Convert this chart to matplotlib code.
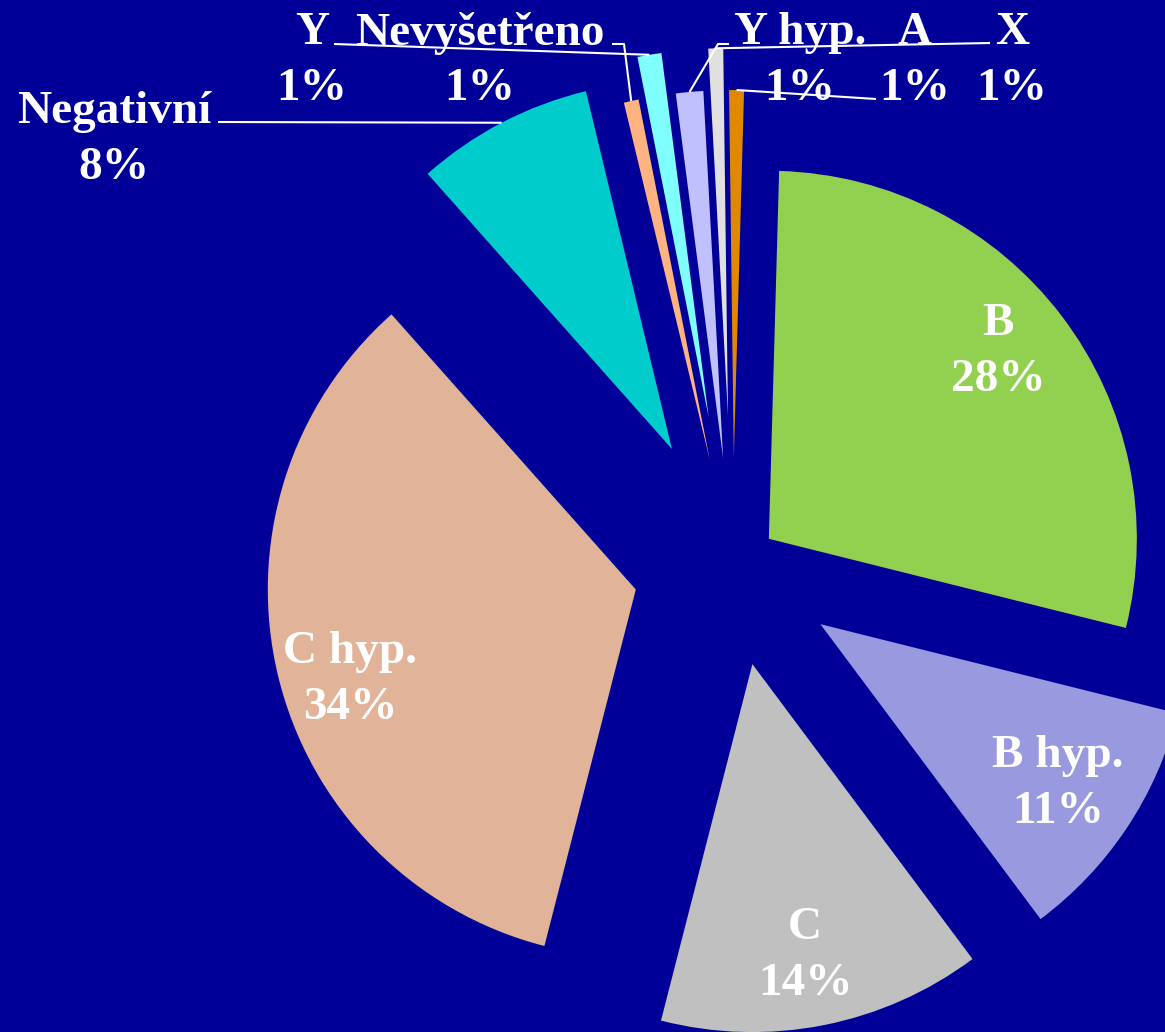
import matplotlib.pyplot as plt
import numpy as np

# ============================================================
# Data (percent shares, clockwise from 12 o'clock)
# ============================================================
categories = ["B", "B hyp.", "C", "C hyp.", "Negativní",
              "Nevyšetřeno", "Y", "Y hyp.", "X", "A"]
shares = [28.45, 10.9, 14.2, 34.45, 7.8, 0.65, 1.05, 1.2, 0.65, 0.65]
colors = ["#92D050", "#9999E0", "#C0C0C0", "#E1B398", "#00CCCC",
          "#FFB380", "#80FFFF", "#C0C0FF", "#E0E0E0", "#E08800"]

# ============================================================
# Layout (pixels, measured from top-left of the picture)
# ============================================================
W, H = 1165, 1032
bg = "#000099"
center_px = (733, 566)
radius = 368
start = 88.4
explode = [45, 105, 100, 100, 132, 108, 150, 108, 150, 108]

# label text centres
label_pos = {
    "B": (998, 352),
    "B hyp.": (1058, 784),
    "C": (805, 956),
    "C hyp.": (350, 680),
    "Negativní": (114, 140),
    "Nevyšetřeno": (480, 61),
    "Y": (312, 61),
    "Y hyp.": (800, 61),
    "X": (1012, 61),
    "A": (915, 61),
}
# leader lines: start point and optional elbow, end is the wedge tip
leader_start = {
    "Negativní": (218, 122),
    "Nevyšetřeno": (612, 44),
    "Y": (334, 44),
    "Y hyp.": (729, 44),
    "X": (990, 43),
    "A": (876, 99),
}
leader_elbow = {
    "Nevyšetřeno": (624, 44),
    "Y hyp.": (718, 44),
}

font = dict(family="Liberation Serif", weight="bold", size=34, color="white")
spacing = 1.43


def flip(p):
    return (p[0], H - p[1])


pct = [f"{round(v)}%" for v in shares]

fig = plt.figure(figsize=(W / 100, H / 100), dpi=100, facecolor=bg)
ax = fig.add_axes([0, 0, 1, 1])
ax.set_facecolor(bg)

wedges, _ = ax.pie(shares, colors=colors, explode=explode,
                   startangle=start, counterclock=False, radius=radius,
                   center=flip(center_px), wedgeprops=dict(linewidth=0))

ax.set_xlim(0, W)
ax.set_ylim(0, H)
ax.set_aspect("equal")
ax.set_axis_off()

for w, cat, p in zip(wedges, categories, pct):
    # leader line from label to the outer tip of the wedge
    if cat in leader_start:
        mid = np.deg2rad((w.theta1 + w.theta2) / 2)
        tip = (w.center[0] + w.r * np.cos(mid), w.center[1] + w.r * np.sin(mid))
        pts = [flip(leader_start[cat])]
        if cat in leader_elbow:
            pts.append(flip(leader_elbow[cat]))
        pts.append(tip)
        xs, ys = zip(*pts)
        ax.plot(xs, ys, color="white", lw=1.5, solid_capstyle="butt")
    tx, ty = flip(label_pos[cat])
    ax.text(tx, ty, f"{cat}\n{p}", ha="center", va="center", linespacing=spacing, **font)

plt.savefig("out.png", dpi=100, facecolor=bg)
